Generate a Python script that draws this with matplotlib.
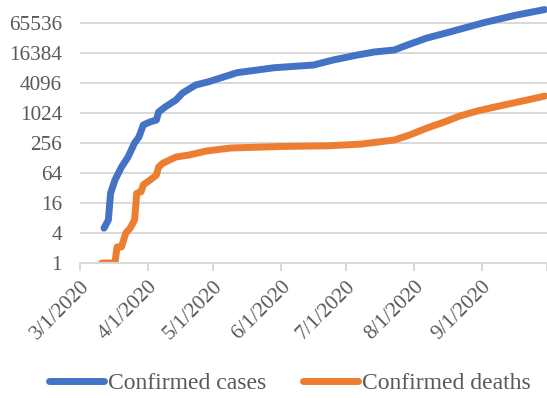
import numpy as np
import pandas as pd
import matplotlib
matplotlib.use("Agg")
import matplotlib.pyplot as plt

# Confirmed cases
case_dates = ["2020-03-12", "2020-03-14", "2020-03-15", "2020-03-17", "2020-03-20",
              "2020-03-23", "2020-03-26", "2020-03-28", "2020-03-30", "2020-04-02",
              "2020-04-05", "2020-04-06", "2020-04-09", "2020-04-14", "2020-04-17",
              "2020-04-23", "2020-04-29", "2020-05-12", "2020-05-29", "2020-06-16",
              "2020-06-25", "2020-07-06", "2020-07-14", "2020-07-23", "2020-07-29",
              "2020-08-07", "2020-08-18", "2020-09-02", "2020-09-17", "2020-09-30"]
case_values = [5, 7.3, 25, 46, 84,
               134, 256, 338, 588, 675,
               740, 1070, 1350, 1870, 2580,
               3730, 4350, 6600, 8300, 9400,
               11850, 14900, 17200, 18800, 23700,
               32768, 43900, 66500, 94600, 122000]

# Confirmed deaths
death_dates = ["2020-03-11", "2020-03-17", "2020-03-18", "2020-03-20", "2020-03-21",
               "2020-03-22", "2020-03-24", "2020-03-26", "2020-03-27", "2020-03-29",
               "2020-03-30", "2020-04-02", "2020-04-05", "2020-04-06", "2020-04-08",
               "2020-04-14", "2020-04-20", "2020-04-28", "2020-05-09", "2020-06-01",
               "2020-06-23", "2020-07-08", "2020-07-23", "2020-07-30", "2020-08-07",
               "2020-08-15", "2020-08-22", "2020-08-30", "2020-09-07", "2020-09-22",
               "2020-09-30"]
death_values = [1, 1, 2.1, 2.1, 2.9,
                4, 5, 7.3, 25, 27,
                37, 46, 58, 84, 101,
                134, 147, 177, 203, 218,
                225, 244, 294, 370, 512,
                676, 891, 1120, 1350, 1870,
                2240]

tick_dates = ["2020-03-01", "2020-04-01", "2020-05-01", "2020-06-01",
              "2020-07-01", "2020-08-01", "2020-09-01", "2020-10-01"]
tick_labels = ["3/1/2020", "4/1/2020", "5/1/2020", "6/1/2020",
               "7/1/2020", "8/1/2020", "9/1/2020", ""]
y_ticks = [1, 4, 16, 64, 256, 1024, 4096, 16384, 65536]

plt.rcParams['font.family'] = ['Liberation Serif', 'DejaVu Serif']
grey = "#595959"
grid_col = "#d9d9d9"

fig = plt.figure(figsize=(5.47, 3.98), dpi=100)
ax = fig.add_axes([80 / 547, 135 / 398, 467 / 547, 263 / 398])

ax.plot(pd.to_datetime(case_dates), case_values, color="#4472C4", lw=5,
        solid_capstyle="round", solid_joinstyle="round", label="Confirmed cases")
ax.plot(pd.to_datetime(death_dates), death_values, color="#ED7D31", lw=5,
        solid_capstyle="round", solid_joinstyle="round", label="Confirmed deaths")

ax.set_yscale("log", base=2)
ax.set_ylim(1, 2 ** (263 / 15))
ax.set_yticks(y_ticks)
ax.set_yticklabels([str(v) for v in y_ticks])
ax.yaxis.set_minor_locator(matplotlib.ticker.NullLocator())
ax.set_xlim(pd.Timestamp("2020-03-01"), pd.Timestamp("2020-10-01"))
ax.set_xticks(pd.to_datetime(tick_dates))
ax.set_xticklabels(tick_labels, rotation=45, ha="right", rotation_mode="anchor")

ax.grid(axis="y", color=grid_col, lw=1.4)
ax.set_axisbelow(True)
for s in ["top", "right", "left"]:
    ax.spines[s].set_visible(False)
ax.spines["bottom"].set_color(grid_col)
ax.spines["bottom"].set_linewidth(1.4)
ax.tick_params(axis="y", length=0, labelsize=15.3, labelcolor=grey, pad=13)
ax.tick_params(axis="x", length=6, width=1.4, color=grid_col, labelsize=15.3,
               labelcolor=grey, pad=4)

leg = fig.legend(loc="center", bbox_to_anchor=(290 / 547, 1 - 383 / 398), ncol=2,
                 frameon=False, fontsize=17, handlelength=2.33, handletextpad=0.17,
                 columnspacing=1.57)
for t in leg.get_texts():
    t.set_color(grey)

fig.savefig("out.png", dpi=100)
